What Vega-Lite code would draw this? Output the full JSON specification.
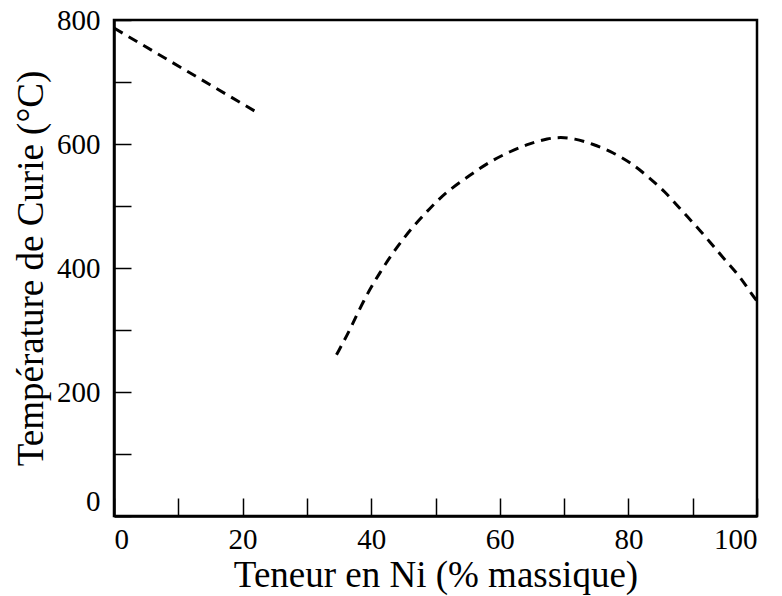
{
  "$schema": "https://vega.github.io/schema/vega-lite/v6.json",
  "autosize": "none",
  "width": 643,
  "height": 496,
  "padding": {"left": 114, "top": 20, "right": 25, "bottom": 80},
  "background": "white",
  "config": {
    "view": {"stroke": "black", "strokeWidth": 2.5},
    "font": "Liberation Serif",
    "axis": {
      "domainColor": "black", "domainWidth": 2.5, "tickColor": "black", "tickWidth": 1.5,
      "labelFont": "Liberation Serif", "labelFontSize": 29, "labelColor": "black",
      "titleFont": "Liberation Serif", "titleFontSize": 37, "titleFontWeight": "normal", "titleColor": "black",
      "grid": false
    }
  },
  "data": {"values": [
    {"ni": 0, "t": 787, "seg": "a"},
    {"ni": 22.4, "t": 650, "seg": "a"},
    {"ni": 34.6, "t": 260, "seg": "b"},
    {"ni": 36.7, "t": 300, "seg": "b"},
    {"ni": 38.8, "t": 348, "seg": "b"},
    {"ni": 41.4, "t": 394, "seg": "b"},
    {"ni": 44.0, "t": 434, "seg": "b"},
    {"ni": 46.5, "t": 467, "seg": "b"},
    {"ni": 49.1, "t": 496, "seg": "b"},
    {"ni": 51.7, "t": 523, "seg": "b"},
    {"ni": 55.4, "t": 550, "seg": "b"},
    {"ni": 58.5, "t": 572, "seg": "b"},
    {"ni": 61.6, "t": 588, "seg": "b"},
    {"ni": 64.7, "t": 601, "seg": "b"},
    {"ni": 67.5, "t": 609, "seg": "b"},
    {"ni": 69.5, "t": 611, "seg": "b"},
    {"ni": 71.5, "t": 609, "seg": "b"},
    {"ni": 74.5, "t": 600, "seg": "b"},
    {"ni": 77.7, "t": 586, "seg": "b"},
    {"ni": 80.5, "t": 569, "seg": "b"},
    {"ni": 83.1, "t": 547, "seg": "b"},
    {"ni": 85.7, "t": 523, "seg": "b"},
    {"ni": 88.0, "t": 496, "seg": "b"},
    {"ni": 90.4, "t": 469, "seg": "b"},
    {"ni": 92.7, "t": 442, "seg": "b"},
    {"ni": 95.0, "t": 413, "seg": "b"},
    {"ni": 97.4, "t": 386, "seg": "b"},
    {"ni": 99.4, "t": 354, "seg": "b"},
    {"ni": 100, "t": 347, "seg": "b"}
  ]},
  "mark": {"type": "line", "color": "black", "strokeWidth": 3, "strokeDash": [10, 7], "interpolate": "basis", "clip": true},
  "encoding": {
    "x": {
      "field": "ni", "type": "quantitative",
      "scale": {"domain": [0, 100], "nice": false},
      "axis": {
        "title": "Teneur en Ni (% massique)",
        "values": [0, 10, 20, 30, 40, 50, 60, 70, 80, 90, 100],
        "labelExpr": "datum.value % 20 == 0 ? datum.label : ''",
        "tickSize": -18, "labelPadding": 27, "titlePadding": 3
      }
    },
    "y": {
      "field": "t", "type": "quantitative",
      "scale": {"domain": [0, 800], "nice": false},
      "axis": {
        "title": "Température de Curie (°C)",
        "values": [0, 100, 200, 300, 400, 500, 600, 700, 800],
        "labelExpr": "datum.value % 200 == 0 ? datum.label : ''",
        "labelBaseline": {"condition": {"test": "datum.value == 0", "value": "bottom"}, "value": "middle"},
        "tickSize": -17, "labelPadding": 31, "titlePadding": 6
      }
    },
    "detail": {"field": "seg"}
  }
}
